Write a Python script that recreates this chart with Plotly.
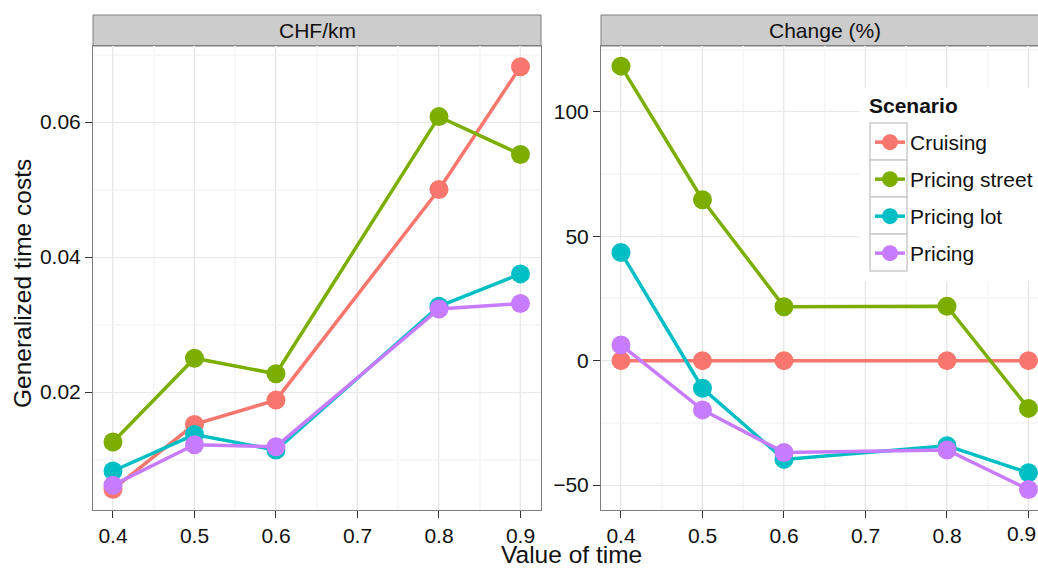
import plotly.graph_objects as go

W, H = 1038, 568

# Value of time (x) shared by every series
value_of_time = [0.4, 0.5, 0.6, 0.8, 0.9]
x_tick_labels = ["0.4", "0.5", "0.6", "0.7", "0.8", "0.9"]

scenarios = ["Cruising", "Pricing street", "Pricing lot", "Pricing"]
colors = ["#F8766D", "#7CAE00", "#00BFC4", "#C77CFF"]

# Generalized time costs, CHF/km
chf_cruising = [0.0056, 0.0152, 0.0188, 0.0500, 0.0682]
chf_street = [0.0126, 0.0250, 0.0227, 0.0608, 0.0552]
chf_lot = [0.0083, 0.0137, 0.0114, 0.0327, 0.0375]
chf_pricing = [0.0062, 0.0122, 0.0119, 0.0323, 0.0331]

# Change relative to cruising, %
pct_cruising = [0, 0, 0, 0, 0]
pct_street = [118.4, 64.7, 21.7, 21.9, -19.2]
pct_lot = [43.5, -11.1, -39.7, -34.2, -45.1]
pct_pricing = [6.3, -19.8, -36.9, -35.9, -51.8]

chf_series = [chf_cruising, chf_street, chf_lot, chf_pricing]
pct_series = [pct_cruising, pct_street, pct_lot, pct_pricing]

FONT = "Liberation Sans, Arial, Helvetica, sans-serif"
TXT = 21      # tick, strip and legend text
TITLE = 24.5  # axis titles


def px(x):
    return x / W


def py(y):
    return 1 - y / H


fig = go.Figure()

for name, color, ys in zip(scenarios, colors, chf_series):
    fig.add_trace(go.Scatter(
        x=value_of_time, y=ys, name=name, legendgroup=name,
        mode="lines+markers", xaxis="x", yaxis="y",
        line=dict(color=color, width=3.5),
        marker=dict(color=color, size=19),
        cliponaxis=False,
    ))

for name, color, ys in zip(scenarios, colors, pct_series):
    fig.add_trace(go.Scatter(
        x=value_of_time, y=ys, name=name, legendgroup=name, showlegend=False,
        mode="lines+markers", xaxis="x2", yaxis="y2",
        line=dict(color=color, width=3.5),
        marker=dict(color=color, size=19),
        cliponaxis=False,
    ))

# panel geometry (pixels)
L1, R1 = 93, 541
L2, R2 = 601, 1049
TOP, BOT = 46, 510
STRIP_TOP = 15
X0 = 0.3755          # left end of both x ranges
PX_PER_UNIT = 815    # pixels per unit of value of time

y_dom = [py(BOT), py(TOP)]

common_x = dict(
    ticks="outside", ticklen=7, tickcolor="#333333", tickwidth=1.2,
    showgrid=True, gridcolor="#E8E8E8", gridwidth=1,
    minor=dict(dtick=0.05, tick0=0.35, showgrid=True, gridcolor="#F7F7F7", gridwidth=1.5, ticks=""),
    zeroline=False, showline=True, linecolor="#7F7F7F", linewidth=1,
    tickfont=dict(family=FONT, size=TXT, color="#111111"),
    fixedrange=True,
)
common_y = dict(
    ticks="outside", ticklen=7, tickcolor="#333333", tickwidth=1.2,
    showgrid=True, gridcolor="#E8E8E8", gridwidth=1,
    zeroline=False, showline=True, linecolor="#7F7F7F", linewidth=1,
    tickfont=dict(family=FONT, size=TXT, color="#111111"),
    fixedrange=True,
)

x_ticks = [0.4, 0.5, 0.6, 0.7, 0.8, 0.9]

fig.update_layout(
    width=W, height=H,
    margin=dict(l=0, r=0, t=0, b=0),
    paper_bgcolor="white", plot_bgcolor="white",
    font=dict(family=FONT, color="#111111"),
    xaxis=dict(domain=[px(L1), px(R1)], range=[X0, X0 + (R1 - L1) / PX_PER_UNIT],
               tickvals=x_ticks, ticktext=x_tick_labels,
               mirror=True, anchor="y", **common_x),
    # last label of the right panel sits on the page edge; it is written separately below
    xaxis2=dict(domain=[px(L2), 1.0], range=[X0, X0 + (W - L2) / PX_PER_UNIT],
                tickvals=x_ticks, ticktext=x_tick_labels[:-1] + [""],
                mirror=True, anchor="y2", **common_x),
    yaxis=dict(domain=y_dom, range=[0.00252, 0.07126],
               tickvals=[0.02, 0.04, 0.06], ticktext=["0.02", "0.04", "0.06"],
               minor=dict(tickvals=[0.01, 0.03, 0.05, 0.07], showgrid=True,
                          gridcolor="#F7F7F7", gridwidth=1.5, ticks=""),
               mirror=True, anchor="x", **common_y),
    yaxis2=dict(domain=y_dom, range=[-60.05, 126.5],
                tickvals=[-50, 0, 50, 100], ticktext=["\u221250", "0", "50", "100"],
                minor=dict(tickvals=[-25, 25, 75, 125], showgrid=True,
                           gridcolor="#F7F7F7", gridwidth=1.5, ticks=""),
                mirror=False, anchor="x2", **common_y),
    legend=dict(
        x=px(870), y=py(122), xanchor="left", yanchor="top",
        bgcolor="rgba(0,0,0,0)", borderwidth=0,
        font=dict(family=FONT, size=TXT, color="#111111"),
        tracegroupgap=6.7, itemwidth=30,
    ),
    showlegend=True,
)

shapes = []
# facet strips
for l, r in [(L1, R1), (L2, W + 10)]:
    shapes.append(dict(type="rect", xref="paper", yref="paper",
                       x0=px(l), x1=px(r), y0=py(TOP), y1=py(STRIP_TOP),
                       fillcolor="#CCCCCC", line=dict(color="#7F7F7F", width=1), layer="below"))
# legend background and key boxes
shapes.append(dict(type="rect", xref="paper", yref="paper",
                   x0=px(860), x1=px(W + 5), y0=py(281), y1=py(88),
                   fillcolor="white", line=dict(width=0), layer="above"))
for i in range(4):
    top = 123 + 37 * i
    shapes.append(dict(type="rect", xref="paper", yref="paper",
                       x0=px(870), x1=px(907), y0=py(top + 37), y1=py(top),
                       fillcolor="white", line=dict(color="#CCCCCC", width=1.5), layer="above"))
fig.update_layout(shapes=shapes)

annotations = [
    dict(text="CHF/km", x=px((L1 + R1) / 2), y=py((STRIP_TOP + TOP) / 2),
         xref="paper", yref="paper", showarrow=False,
         font=dict(family=FONT, size=TXT, color="#111111"), xanchor="center", yanchor="middle"),
    dict(text="Change (%)", x=px((L2 + R2) / 2), y=py((STRIP_TOP + TOP) / 2),
         xref="paper", yref="paper", showarrow=False,
         font=dict(family=FONT, size=TXT, color="#111111"), xanchor="center", yanchor="middle"),
    dict(text="Value of time", x=px(571), y=py(554),
         xref="paper", yref="paper", showarrow=False,
         font=dict(family=FONT, size=TITLE, color="#111111"), xanchor="center", yanchor="middle"),
    dict(text="Generalized time costs", x=px(22), y=py(284), textangle=-90,
         xref="paper", yref="paper", showarrow=False,
         font=dict(family=FONT, size=TITLE, color="#111111"), xanchor="center", yanchor="middle"),
    dict(text="<b>Scenario</b>", x=px(867), y=py(106),
         xref="paper", yref="paper", showarrow=False,
         font=dict(family=FONT, size=TXT, color="#111111"), xanchor="left", yanchor="middle"),
    # right-panel "0.9" tick label at the page edge
    dict(text=x_tick_labels[-1], x=px(W), y=py(533),
         xref="paper", yref="paper", showarrow=False,
         font=dict(family=FONT, size=TXT, color="#111111"), xanchor="right", yanchor="middle"),
]
fig.update_layout(annotations=annotations)

fig.write_html("out.html", config=dict(displayModeBar=False))
